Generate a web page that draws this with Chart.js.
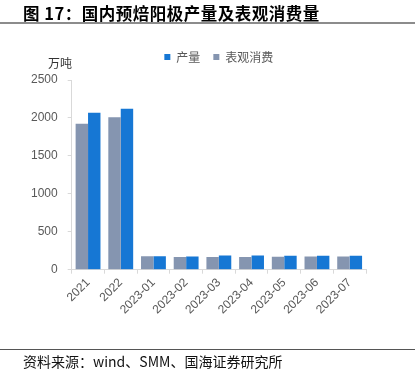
<!DOCTYPE html>
<html>
<head>
<meta charset="utf-8">
<script src="https://cdn.jsdelivr.net/npm/chart.js@4.4.0/dist/chart.umd.min.js"></script>
<style>
  html, body { margin: 0; padding: 0; background: #fff; }
  #wrap { position: relative; width: 415px; height: 376px; overflow: hidden; }
  #title {
    position: absolute; left: 23px; top: 1px;
    font-family: "Noto Sans CJK SC", sans-serif; font-weight: bold;
    font-size: 16.5px; color: #000; white-space: nowrap; letter-spacing: 0.5px;
  }
  #titleLine { position: absolute; left: 0; top: 22px; width: 415px; height: 2px; background: #8c8c8c; }
  #unit {
    position: absolute; left: 48px; top: 54px;
    font-family: "Noto Sans CJK SC", sans-serif; font-size: 12px; color: #333;
  }
  #footLine { position: absolute; left: 0; top: 349px; width: 415px; height: 1px; background: #555; }
  #source {
    position: absolute; left: 23px; top: 351px;
    font-family: "Noto Sans CJK SC", sans-serif; font-size: 14px; color: #111; white-space: nowrap;
  }
  canvas { position: absolute; left: 0; top: 0; }
</style>
</head>
<body>
<div id="wrap">
  <canvas id="chart" width="415" height="376"></canvas>
  <div id="title">图 17：国内预焙阳极产量及表观消费量</div>
  <div id="titleLine"></div>
  <div id="unit">万吨</div>
  <div id="footLine"></div>
  <div id="source">资料来源：wind、SMM、国海证券研究所</div>
</div>
<script>
// categories and series (万吨)
const categories = ['2021', '2022', '2023-01', '2023-02', '2023-03', '2023-04', '2023-05', '2023-06', '2023-07'];
const consumption = [1924, 2008, 177, 168, 166, 166, 170, 174, 174]; // 表观消费
const production = [2067, 2120, 177, 174, 188, 188, 183, 183, 185];  // 产量
const yTicks = [0, 500, 1000, 1500, 2000, 2500];

const tickFont = { family: 'Liberation Sans, Arial, sans-serif', size: 12 };
const axisGrey = '#d9d9d9';

// push the plot down a bit below the legend
const legendMargin = {
    id: 'legendMargin',
    beforeInit(chart) {
        const fit = chart.legend.fit;
        chart.legend.fit = function() {
            fit.bind(chart.legend)();
            this.height += 7;
        };
    }
};

const ctx = document.getElementById('chart').getContext('2d');
new Chart(ctx, {
    type: 'bar',
    data: {
        labels: categories,
        datasets: [
            {
                label: '表观消费',
                data: consumption,
                backgroundColor: '#8595b0',
                borderWidth: 0
            },
            {
                label: '产量',
                data: production,
                backgroundColor: '#1677d4',
                borderWidth: 0
            }
        ]
    },
    options: {
        responsive: false,
        animation: false,
        layout: { padding: { top: 38, left: 21, right: 49, bottom: 57 } },
        datasets: {
            bar: { categoryPercentage: 0.76, barPercentage: 1.0 }
        },
        plugins: {
            legend: {
                display: true,
                reverse: true,
                fullSize: false,
                labels: {
                    boxWidth: 6,
                    boxHeight: 6,
                    padding: 13,
                    color: '#595959',
                    font: { family: 'Noto Sans CJK SC, sans-serif', size: 12 }
                }
            },
            tooltip: { enabled: false }
        },
        scales: {
            x: {
                grid: {
                    offset: true,
                    drawOnChartArea: false,
                    drawTicks: true,
                    tickLength: 4,
                    color: axisGrey
                },
                border: { color: axisGrey, width: 1 },
                ticks: {
                    color: '#595959',
                    font: tickFont,
                    minRotation: 45,
                    maxRotation: 45,
                    autoSkip: false,
                    padding: 2
                }
            },
            y: {
                min: 0,
                max: 2500,
                afterBuildTicks: function(scale) {
                    scale.ticks = yTicks.map(v => ({ value: v }));
                },
                grid: {
                    drawOnChartArea: false,
                    drawTicks: true,
                    tickLength: 4,
                    color: axisGrey
                },
                border: { color: axisGrey, width: 1 },
                ticks: {
                    color: '#595959',
                    font: tickFont,
                    padding: 10,
                    callback: function(value) {
                        return String(value);
                    }
                }
            }
        }
    },
    plugins: [legendMargin]
});
</script>
</body>
</html>
